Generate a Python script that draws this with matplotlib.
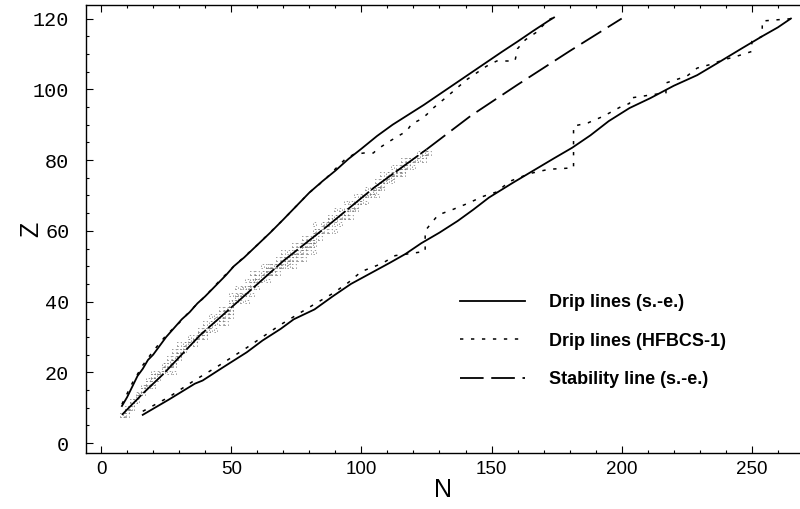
import matplotlib
matplotlib.use("Agg")
import matplotlib.pyplot as plt
from matplotlib.ticker import MultipleLocator
import numpy as np

# proton drip line, semi-empirical (N, Z)
p_drip_N = [8, 10, 12, 14, 16, 18, 20, 22, 25, 28, 31, 34, 37, 40, 44, 48, 51, 55,
            60, 65, 70, 75, 80, 85, 90, 95, 100, 106, 112, 118, 124, 130, 136, 142,
            148, 154, 160, 166, 172, 174]
p_drip_Z = [10.5, 13, 16, 19, 21, 23.5, 25, 27, 30, 32.5, 35, 37, 39.5, 41.5, 44.5,
            47.5, 50, 52.5, 56, 59.5, 63.2, 67, 70.8, 74, 77, 80.3, 83.2, 86.8, 90,
            92.8, 95.6, 98.6, 101.6, 104.6, 107.6, 110.6, 113.5, 116.5, 119.4, 120.3]

# proton drip line, HFBCS-1
p_hfb_N = [8, 12, 16, 20, 25, 30, 35, 40, 45, 51, 60, 70, 80, 86, 90, 93.7, 97, 101,
           104.6, 106, 111, 117.4, 119.3, 122.5, 125, 127.6, 133, 140.4, 143, 148, 152,
           159, 160, 163, 167, 172, 174]
p_hfb_Z = [11, 17, 22, 26, 30.5, 34, 38, 41.5, 45.5, 50, 56, 63.2, 70.8, 74.5, 77.5,
           80.2, 81.6, 82, 82, 83, 85.4, 88.2, 90.2, 91.4, 92.8, 94.7, 98, 102.7, 104,
           106.5, 108, 108, 111.5, 114, 116, 119.7, 120.3]

# neutron drip line, semi-empirical
n_drip_N = [16, 26, 36, 39, 47, 56, 62, 69, 74, 82, 89, 96, 104, 111, 117, 123, 130,
            137, 143, 149, 158, 166, 174, 181, 188, 195, 203, 211, 220, 229, 237, 246,
            254, 260, 265]
n_drip_Z = [8, 12.3, 16.8, 17.7, 21.5, 25.7, 29, 32.3, 35, 37.8, 41.5, 45, 48.2, 51,
            53.5, 56.5, 59.5, 62.8, 66, 69.4, 73.5, 77, 80.5, 83.5, 87, 91, 94.7, 97.5,
            101, 104, 107.5, 111.5, 115, 117.5, 120]

# neutron drip line, HFBCS-1
n_hfb_N = [16, 26, 36, 45, 56, 69, 82, 89, 95, 100, 108, 113, 118, 124.5, 124.5, 127,
           129.5, 135, 140, 147, 152, 157, 164.7, 172, 181.5, 181.5, 187, 193, 200,
           203, 203, 212, 217, 217, 225, 229, 234, 239, 244, 250, 250, 254, 254, 259, 266]
n_hfb_Z = [9, 13, 17.8, 21.8, 27, 33.5, 39.3, 42.3, 45.4, 48.5, 50.8, 53, 53.5, 54.2,
           60, 62.3, 64.5, 66, 67.5, 69.8, 71, 74, 76.2, 77.4, 77.8, 89.6, 90.5, 92.4,
           95.2, 96, 97.5, 98.5, 99, 101.8, 103.7, 106, 107, 108.3, 109.3, 110.7, 113.5,
           115, 119.3, 119.6, 120]

# line of beta stability, semi-empirical
stab_N = [8, 16, 24, 38, 53, 70, 87, 105, 125, 142, 160, 180, 200]
stab_Z = [8, 14, 19.6, 30.5, 40.3, 51.5, 61.4, 72.3, 83, 92.5, 101.3, 110.8, 120]

# stable nuclides: Z -> list of N
stable = {
    8: [8, 9, 10], 9: [10], 10: [10, 11, 12], 11: [12], 12: [12, 13, 14], 13: [14],
    14: [14, 15, 16], 15: [16], 16: [16, 17, 18, 20], 17: [18, 20], 18: [18, 20, 22],
    19: [20, 21, 22], 20: [20, 22, 23, 24, 26, 28], 21: [24], 22: [24, 25, 26, 27, 28],
    23: [27, 28], 24: [26, 28, 29, 30], 25: [30], 26: [28, 30, 31, 32], 27: [32],
    28: [30, 32, 33, 34, 36], 29: [34, 36], 30: [34, 36, 37, 38, 40], 31: [38, 40],
    32: [38, 40, 41, 42, 44], 33: [42], 34: [40, 42, 43, 44, 46, 48], 35: [44, 46],
    36: [42, 44, 46, 47, 48, 50], 37: [48, 50], 38: [46, 48, 49, 50], 39: [50],
    40: [50, 51, 52, 54, 56], 41: [52], 42: [50, 52, 53, 54, 55, 56, 58],
    44: [52, 54, 55, 56, 57, 58, 60], 45: [58], 46: [56, 58, 59, 60, 62, 64],
    47: [60, 62], 48: [58, 60, 62, 63, 64, 65, 66, 68], 49: [64, 66],
    50: [62, 64, 65, 66, 67, 68, 69, 70, 72, 74], 51: [70, 72],
    52: [68, 70, 71, 72, 73, 74, 76, 78], 53: [74], 54: [70, 72, 74, 75, 76, 77, 78, 80, 82],
    55: [78], 56: [74, 76, 78, 79, 80, 81, 82], 57: [81, 82], 58: [78, 80, 82, 84],
    59: [82], 60: [82, 83, 84, 85, 86, 88, 90], 62: [82, 85, 86, 87, 88, 90, 92],
    63: [88, 90], 64: [88, 90, 91, 92, 93, 94, 96], 65: [94],
    66: [90, 92, 94, 95, 96, 97, 98], 67: [98], 68: [94, 96, 98, 99, 100, 102],
    69: [100], 70: [98, 100, 101, 102, 103, 104, 106], 71: [104, 105],
    72: [102, 104, 105, 106, 107, 108], 73: [107, 108], 74: [106, 108, 109, 110, 112],
    75: [110, 112], 76: [108, 110, 111, 112, 113, 114, 116], 77: [114, 116],
    78: [112, 114, 116, 117, 118, 120], 79: [118], 80: [116, 118, 119, 120, 121, 122, 124],
    81: [122, 124], 82: [122, 124, 125, 126],
}

labels = ["Drip lines (s.-e.)", "Drip lines (HFBCS-1)", "Stability line (s.-e.)"]

plt.rcParams["lines.scale_dashes"] = False
fig = plt.figure(figsize=(8, 5.09), dpi=100)
ax = fig.add_axes([0.1075, 0.1106, 0.8925, 0.8794])

sN = [n for z, ns in stable.items() for n in ns]
sZ = [z for z, ns in stable.items() for n in ns]
ax.scatter(sN, sZ, marker="s", s=7, facecolors="none", edgecolors="0.45",
           linewidths=0.5, linestyles=":", zorder=1)

l1, = ax.plot(p_drip_N, p_drip_Z, color="k", lw=1.3, zorder=3)
ax.plot(n_drip_N, n_drip_Z, color="k", lw=1.3, zorder=3)
l2, = ax.plot(p_hfb_N, p_hfb_Z, color="k", lw=1.1, dashes=(2.4, 5.5), zorder=2)
ax.plot(n_hfb_N, n_hfb_Z, color="k", lw=1.1, dashes=(2.4, 5.5), zorder=2)

stN = np.array(stab_N)
stZ = np.array(stab_Z)
low = stN <= 125
ax.plot(stN[low], stZ[low], color="k", lw=1.3, dashes=(20, 2), zorder=3)
l3, = ax.plot(stN[stN >= 125], stZ[stN >= 125], color="k", lw=1.3,
              dashes=(17, 5.5), zorder=3)

ax.set_xlim(-5.8, 268.5)
ax.set_ylim(-2.7, 123.8)
ax.spines["right"].set_visible(False)
for s in ax.spines.values():
    s.set_linewidth(1.0)

ax.xaxis.set_major_locator(MultipleLocator(50))
ax.xaxis.set_minor_locator(MultipleLocator(10))
ax.yaxis.set_major_locator(MultipleLocator(20))
ax.yaxis.set_minor_locator(MultipleLocator(5))
ax.tick_params(which="both", direction="in", top=True, right=False, width=0.8)
ax.tick_params(which="major", length=5)
ax.tick_params(which="minor", length=2.5)
ax.tick_params(axis="x", pad=6)
ax.tick_params(axis="y", pad=12)

for lab in ax.get_xticklabels():
    lab.set_family("Liberation Sans")
    lab.set_fontsize(13.5)
for lab in ax.get_yticklabels():
    lab.set_family(["Liberation Mono", "DejaVu Sans Mono"])
    lab.set_fontsize(14.5)

ax.set_xlabel("N", family="Liberation Sans", fontsize=18, labelpad=0)
ax.set_ylabel("Z", family="Liberation Sans", fontsize=18)
ax.yaxis.set_label_coords(-0.06, 0.5)

leg = ax.legend([l1, l2, l3], labels, loc="upper left",
                bbox_to_anchor=(0.575, 0.4223), bbox_transform=fig.transFigure,
                frameon=False, handlelength=3.6, handletextpad=1.35,
                labelspacing=1.2, borderpad=0, borderaxespad=0,
                prop={"family": "Liberation Sans", "weight": "bold", "size": 13})

fig.savefig("out.png", dpi=100)
